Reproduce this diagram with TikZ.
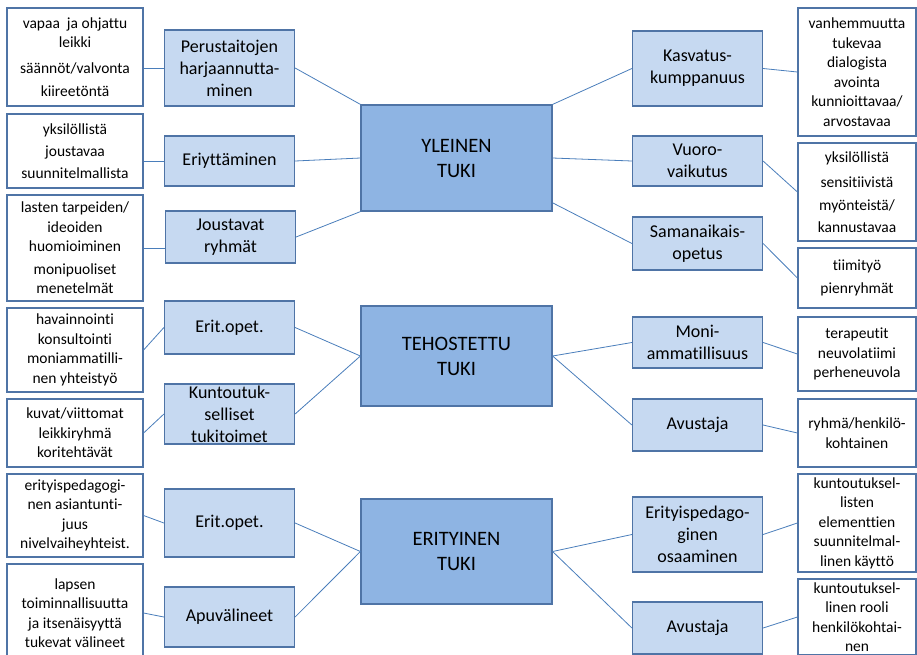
\documentclass[tikz,border=0pt]{standalone}
\usepackage{fontspec}
\setmainfont{Carlito}[Ligatures=NoCommon]
\usepackage{xcolor}
\definecolor{mainblue}{HTML}{8EB4E3}
\definecolor{subblue}{HTML}{C6D9F1}
\definecolor{edgeblue}{HTML}{4F74A6}
\definecolor{lineblue}{HTML}{4A7EBB}

\begin{document}
\begin{tikzpicture}
  [x=1pt,y=-1pt,
   every node/.style={rectangle,draw=edgeblue,line width=1.2pt,inner sep=0pt,align=center},
   main/.style={fill=mainblue,minimum width=191pt,font=\fontsize{20.5}{25}\selectfont},
   sub/.style={fill=subblue,minimum width=130pt,font=\fontsize{18}{22}\selectfont},
   txt/.style={fill=white,font=\fontsize{15.5}{19.5}\selectfont},
   link/.style={draw=lineblue,line width=0.8pt}]
  \useasboundingbox (0,0) rectangle (917,654);
  \clip (0,0) rectangle (917,654);

  % tukitasot
  \node[main,minimum height=106pt] (m1) at (456.5,158) {YLEINEN\\TUKI};
  \node[main,minimum height=100pt] (m2) at (456.5,356) {TEHOSTETTU\\TUKI};
  \node[main,minimum height=105pt] (m3) at (456.5,551.5) {ERITYINEN\\TUKI};

  % vasen puoli
  \node[sub,minimum height=76pt] (b1) at (229.5,68) {Perustaitojen\\harjaannutta-\\minen};
  \node[sub,minimum height=50pt] (b2) at (229.5,161) {Eriyttäminen};
  \node[sub,minimum height=52pt] (b3) at (230.5,237) {Joustavat\\ryhmät};
  \node[sub,minimum height=53pt] (b4) at (229.5,327.5) {Erit.opet.};
  \node[sub,minimum height=60pt] (b5) at (229.5,414) {Kuntoutuk-\\selliset\\tukitoimet};
  \node[sub,minimum height=68pt] (b6) at (229.5,523) {Erit.opet.};
  \node[sub,minimum height=60pt] (b7) at (229.5,617) {Apuvälineet};

  \node[txt,minimum width=136pt,minimum height=98pt] (t1) at (75,57)
    {vapaa\ \ ja ohjattu\\leikki\\[6pt]säännöt/valvonta\\[4pt]kiireetöntä};
  \node[txt,minimum width=136pt,minimum height=74pt] (t2) at (75,151)
    {yksilöllistä\\[3pt]joustavaa\\[2pt]suunnitelmallista};
  \node[txt,minimum width=136pt,minimum height=106pt] (t3) at (75,248)
    {lasten tarpeiden/\\ideoiden\\huomioiminen\\[3pt]monipuoliset\\menetelmät};
  \node[txt,minimum width=136pt,minimum height=84pt] (t4) at (75,350)
    {havainnointi\\konsultointi\\moniammatilli-\\nen yhteistyö};
  \node[txt,minimum width=136pt,minimum height=68pt] (t5) at (75,433)
    {kuvat/viittomat\\leikkiryhmä\\koritehtävät};
  \node[txt,minimum width=136pt,minimum height=83pt] (t6) at (75,515.5)
    {erityispedagogi-\\nen asiantunti-\\juus\\nivelvaiheyhteist.};
  \node[txt,minimum width=136pt,minimum height=98pt] (t7) at (75,613)
    {lapsen\\toiminnallisuutta\\ja itsenäisyyttä\\tukevat välineet};

  % oikea puoli
  \node[sub,minimum height=75pt] (r1) at (697.5,68.5) {Kasvatus-\\kumppanuus};
  \node[sub,minimum height=50pt] (r2) at (697.5,161) {Vuoro-\\vaikutus};
  \node[sub,minimum height=53pt] (r3) at (697.5,243.5) {Samanaikais-\\opetus};
  \node[sub,minimum height=51pt] (r4) at (697.5,342.5) {Moni-\\ammatillisuus};
  \node[sub,minimum height=52pt] (r5) at (697.5,425) {Avustaja};
  \node[sub,minimum height=75pt] (r6) at (697.5,534.5) {Erityispedago-\\ginen\\osaaminen};
  \node[sub,minimum height=52pt] (r7) at (697.5,628) {Avustaja};

  \node[txt,minimum width=118pt,minimum height=128pt] (s1) at (857,72)
    {vanhemmuutta\\tukevaa\\dialogista\\avointa\\kunnioittavaa/\\arvostavaa};
  \node[txt,minimum width=118pt,minimum height=98pt] (s2) at (857,192)
    {yksilöllistä\\[5pt]sensitiivistä\\[4pt]myönteistä/\\[2pt]kannustavaa};
  \node[txt,minimum width=118pt,minimum height=60pt] (s3) at (857,278)
    {tiimityö\\[3pt]pienryhmät};
  \node[txt,minimum width=118pt,minimum height=74pt] (s4) at (857,354)
    {terapeutit\\neuvolatiimi\\perheneuvola};
  \node[txt,minimum width=118pt,minimum height=68pt] (s5) at (857,433)
    {ryhmä/henkilö-\\kohtainen};
  \node[txt,minimum width=118pt,minimum height=98pt] (s6) at (857,523)
    {kuntoutuksel-\\listen\\elementtien\\suunnitelmal-\\linen käyttö};
  \node[txt,minimum width=118pt,minimum height=76pt] (s7) at (857,617)
    {kuntoutuksel-\\linen rooli\\henkilökohtai-\\nen};

  % viivat
  \foreach \from/\to in {t4/b4,t5/b5,t6/b6,t7/b7,b2/m1,b4/m2,b5/m2,b6/m3,b7/m3,
      m1/r2,m2/r4,m2/r5,m3/r6,m3/r7,r1/s1,r2/s2,r3/s3,r4/s4,r5/s5,r6/s6,r7/s7}
    \draw[link] (\from.east) -- (\to.west);
  \draw[link] (b1.west) -- (b1.west -| t1.east);
  \draw[link] (b2.west) -- (b2.west -| t2.east);
  \draw[link] (t3.east) -- (t3.east -| b3.west);
  \draw[link] (b1.east) -- (m1.north west);
  \draw[link] (b3.east) -- (m1.south west);
  \draw[link] (m1.north east) -- (r1.west);
  \draw[link] (m1.-25) -- (r3.west);

\end{tikzpicture}
\end{document}
